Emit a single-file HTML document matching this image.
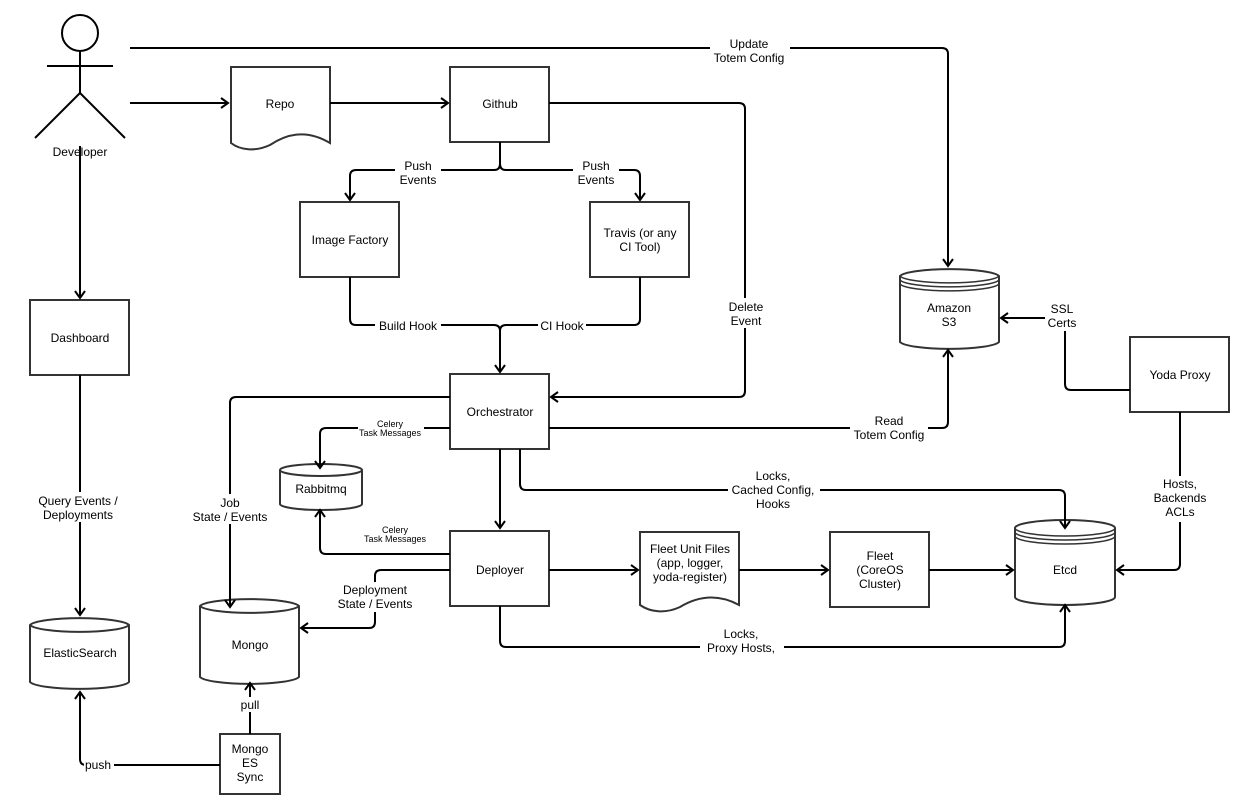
<!DOCTYPE html>
<html><head><meta charset="utf-8"><style>
html,body{margin:0;padding:0;background:#fff;}
svg{display:block;font-family:"Liberation Sans",sans-serif;}
text{font-size:12px;fill:#000;text-anchor:middle;}
.s{font-size:9px;}
.b{fill:#fff;stroke:#333;stroke-width:2;}
.l{fill:none;stroke:#000;stroke-width:2;stroke-linejoin:round;}
.lb{fill:#fff;stroke:none;}
</style></head><body>
<svg width="1250" height="800" viewBox="0 0 1250 800">
<defs><marker id="a" markerWidth="12" markerHeight="12" refX="9" refY="6" orient="auto" markerUnits="userSpaceOnUse"><path d="M2,1 L9,6 L2,11" fill="none" stroke="#000" stroke-width="2"/></marker></defs>

<!-- actor -->
<circle cx="80" cy="33" r="18" fill="#fff" stroke="#000" stroke-width="2"/>
<path class="l" d="M80,51 V93 M47,66 H113 M35,138 L80,93 L125,138"/>
<text x="80" y="156">Developer</text>

<!-- shapes -->
<path class="b" d="M231,67 H330 V143 C305,128 285,135 270,145 C255,152 240,150 231,143 Z"/>
<text x="280" y="108">Repo</text>
<rect class="b" x="450" y="67" width="99" height="75"/><text x="500" y="108">Github</text>
<rect class="b" x="300" y="202" width="99" height="75"/><text x="350" y="244">Image Factory</text>
<rect class="b" x="590" y="202" width="99" height="75"/><text x="640" y="237">Travis (or any</text><text x="640" y="251">CI Tool)</text>
<rect class="b" x="450" y="374" width="99" height="75"/><text x="500" y="416">Orchestrator</text>
<rect class="b" x="30" y="300" width="99" height="75"/><text x="80" y="342">Dashboard</text>
<rect class="b" x="450" y="531" width="99" height="75"/><text x="500" y="574">Deployer</text>
<path class="b" d="M640,532 H739 V605 C715,592 695,598 680,607 C665,614 650,612 640,605 Z"/>
<text x="690" y="553">Fleet Unit Files</text><text x="690" y="567">(app, logger,</text><text x="690" y="581">yoda-register)</text>
<rect class="b" x="830" y="532" width="99" height="75"/><text x="880" y="560">Fleet</text><text x="880" y="574">(CoreOS</text><text x="880" y="588">Cluster)</text>
<rect class="b" x="1130" y="337" width="99" height="75"/><text x="1180" y="379">Yoda Proxy</text>
<rect class="b" x="220" y="734" width="60" height="60"/><text x="250" y="753">Mongo</text><text x="250" y="767">ES</text><text x="250" y="781">Sync</text>

<!-- cylinders -->
<path class="b" d="M30,625 A50,8 0 0 1 129,625 V682 A50,8 0 0 1 30,682 Z"/><path class="l" style="stroke:#333" d="M30,625 A50,8 0 0 0 129,625"/>
<text x="80" y="657">ElasticSearch</text>
<path class="b" d="M200,606 A50,8 0 0 1 299,606 V677 A50,8 0 0 1 200,677 Z"/><path class="l" style="stroke:#333" d="M200,606 A50,8 0 0 0 299,606"/>
<text x="250" y="649">Mongo</text>
<path class="b" d="M280,470 A41,6 0 0 1 362,470 V504 A41,6 0 0 1 280,504 Z"/><path class="l" style="stroke:#333" d="M280,470 A41,6 0 0 0 362,470"/>
<text x="321" y="493">Rabbitmq</text>
<path class="b" d="M900,276 A50,8 0 0 1 999,276 V342 A50,8 0 0 1 900,342 Z"/><path class="l" style="stroke:#333;stroke-width:1.5" d="M900,276 A50,8 0 0 0 999,276 M900,280 A50,8 0 0 0 999,280 M900,284 A50,8 0 0 0 999,284"/>
<text x="949" y="312">Amazon</text><text x="949" y="326">S3</text>
<path class="b" d="M1015,528 A50,8 0 0 1 1115,528 V597 A50,8 0 0 1 1015,597 Z"/><path class="l" style="stroke:#333;stroke-width:1.5" d="M1015,528 A50,8 0 0 0 1115,528 M1015,532 A50,8 0 0 0 1115,532 M1015,536 A50,8 0 0 0 1115,536"/>
<text x="1065" y="574">Etcd</text>

<!-- connectors -->
<path class="l" d="M130,48 H942 Q948,48 948,54 V266" marker-end="url(#a)"/>
<path class="l" d="M130,103 H228" marker-end="url(#a)"/>
<path class="l" d="M330,103 H448" marker-end="url(#a)"/>
<path class="l" d="M549,103 H739 Q745,103 745,109 V391 Q745,397 739,397 H551" marker-end="url(#a)"/>
<path class="l" d="M500,142 V164 Q500,170 494,170 H356 Q350,170 350,176 V200" marker-end="url(#a)"/>
<path class="l" d="M500,142 V164 Q500,170 506,170 H634 Q640,170 640,176 V200" marker-end="url(#a)"/>
<path class="l" d="M350,277 V319 Q350,325 356,325 H494 Q500,325 500,331 V372" marker-end="url(#a)"/>
<path class="l" d="M640,277 V319 Q640,325 634,325 H506 Q500,325 500,331"/>
<path class="l" d="M80,146 V298" marker-end="url(#a)"/>
<path class="l" d="M80,375 V615" marker-end="url(#a)"/>
<path class="l" d="M220,765 H86 Q80,765 80,759 V692" marker-end="url(#a)"/>
<path class="l" d="M250,734 V683" marker-end="url(#a)"/>
<path class="l" d="M450,397 H236 Q230,397 230,403 V607" marker-end="url(#a)"/>
<path class="l" d="M450,428 H326 Q320,428 320,434 V468" marker-end="url(#a)"/>
<path class="l" d="M450,554 H326 Q320,554 320,548 V510" marker-end="url(#a)"/>
<path class="l" d="M500,449 V528" marker-end="url(#a)"/>
<path class="l" d="M450,570 H381 Q375,570 375,576 V622 Q375,628 369,628 H301" marker-end="url(#a)"/>
<path class="l" d="M549,428 H942 Q948,428 948,422 V350" marker-end="url(#a)"/>
<path class="l" d="M520,449 V484 Q520,490 526,490 H1059 Q1065,490 1065,496 V528" marker-end="url(#a)"/>
<path class="l" d="M549,570 H638" marker-end="url(#a)"/>
<path class="l" d="M739,570 H828" marker-end="url(#a)"/>
<path class="l" d="M929,570 H1013" marker-end="url(#a)"/>
<path class="l" d="M500,606 V641 Q500,647 506,647 H1059 Q1065,647 1065,641 V605" marker-end="url(#a)"/>
<path class="l" d="M1130,390 H1071 Q1065,390 1065,384 V324 Q1065,318 1059,318 H1001" marker-end="url(#a)"/>
<path class="l" d="M1180,412 V564 Q1180,570 1174,570 H1117" marker-end="url(#a)"/>

<!-- labels -->
<rect class="lb" x="710" y="37" width="80" height="28"/><text x="749" y="48">Update</text><text x="749" y="62">Totem Config</text>
<rect class="lb" x="720" y="298" width="52" height="30"/><text x="746" y="311">Delete</text><text x="746" y="325">Event</text>
<rect class="lb" x="395" y="158" width="46" height="28"/><text x="418" y="170">Push</text><text x="418" y="184">Events</text>
<rect class="lb" x="573" y="158" width="46" height="28"/><text x="596" y="170">Push</text><text x="596" y="184">Events</text>
<rect class="lb" x="375" y="318" width="66" height="15"/><text x="408" y="330">Build Hook</text>
<rect class="lb" x="538" y="318" width="48" height="15"/><text x="562" y="330">CI Hook</text>
<rect class="lb" x="36" y="492" width="86" height="30"/><text x="78" y="505">Query Events /</text><text x="78" y="519">Deployments</text>
<rect class="lb" x="84" y="758" width="30" height="15"/><text x="98" y="769">push</text>
<rect class="lb" x="238" y="697" width="24" height="15"/><text x="250" y="709">pull</text>
<rect class="lb" x="196" y="494" width="72" height="30"/><text x="230" y="507">Job</text><text x="230" y="521">State / Events</text>
<rect class="lb" x="358" y="418" width="66" height="22"/><text class="s" x="390" y="427">Celery</text><text class="s" x="390" y="436">Task Messages</text>
<rect class="lb" x="362" y="524" width="66" height="22"/><text class="s" x="395" y="533">Celery</text><text class="s" x="395" y="542">Task Messages</text>
<rect class="lb" x="338" y="582" width="76" height="30"/><text x="375" y="594">Deployment</text><text x="375" y="608">State / Events</text>
<rect class="lb" x="850" y="414" width="78" height="28"/><text x="889" y="425">Read</text><text x="889" y="439">Totem Config</text>
<rect class="lb" x="728" y="468" width="92" height="44"/><text x="773" y="480">Locks,</text><text x="773" y="494">Cached Config,</text><text x="773" y="508">Hooks</text>
<rect class="lb" x="700" y="626" width="84" height="28"/><text x="741" y="638">Locks,</text><text x="741" y="652">Proxy Hosts,</text>
<rect class="lb" x="1045" y="301" width="34" height="30"/><text x="1062" y="313">SSL</text><text x="1062" y="327">Certs</text>
<rect class="lb" x="1150" y="476" width="60" height="46"/><text x="1180" y="488">Hosts,</text><text x="1180" y="502">Backends</text><text x="1180" y="516">ACLs</text>
</svg>
</body></html>
